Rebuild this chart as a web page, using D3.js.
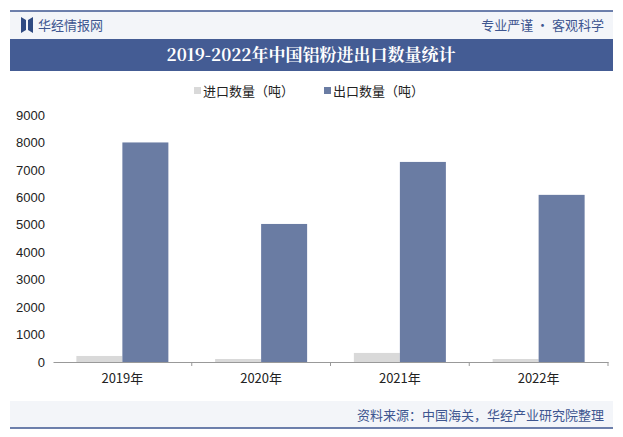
<!DOCTYPE html><html><head><meta charset="utf-8"><script src="https://cdn.jsdelivr.net/npm/d3@7"></script>
<style>body{margin:0;background:#fff}svg{font-family:"Liberation Sans",Arial,sans-serif}</style></head><body><svg id="c" width="623" height="437"></svg><script>
const categories=["2019年","2020年","2021年","2022年"];
const importVals=[220,110,330,110];
const exportVals=[8000,5030,7290,6090];
const yTicks=[0,1000,2000,3000,4000,5000,6000,7000,8000,9000];
const series=["进口数量（吨）","出口数量（吨）"];
const colors=["#d9d9d9","#6a7ca3"];
const svg=d3.select("#c");
const cjk='"Noto Sans CJK SC",sans-serif';
svg.append("rect").attr("x",10).attr("y",11).attr("width",603).attr("height",28).attr("fill","#f3f5f9");
svg.append("line").attr("x1",10).attr("x2",613).attr("y1",11).attr("y2",11).attr("stroke","#3e5690").attr("stroke-width",1.5);
svg.append("rect").attr("x",10).attr("y",39).attr("width",603).attr("height",32).attr("fill","#445c94");
svg.append("path").attr("d","M21,17 l5,3 v10 l-5,3z M28,20 l5,-3 v16 l-5,-3z").attr("fill","#2f4a82");
svg.append("text").attr("x",38).attr("y",30).attr("font-family",cjk).attr("font-size",13).attr("fill","#3e5690").text("华经情报网");
svg.append("text").attr("x",604).attr("y",30).attr("text-anchor","end").attr("font-family",cjk).attr("font-size",13).attr("fill","#3e5690").text("专业严谨 • 客观科学");
svg.append("text").attr("x",311).attr("y",61).attr("text-anchor","middle").attr("font-family",'"Noto Serif CJK SC","Noto Sans CJK SC",serif').attr("font-weight","bold").attr("font-size",17).attr("fill","#fff").text("2019-2022年中国铝粉进出口数量统计");
const lg=svg.append("g").attr("font-family",cjk).attr("font-size",13).attr("fill","#222");
[[194,0],[324,1]].forEach(([x,i])=>{lg.append("rect").attr("x",x).attr("y",87).attr("width",7).attr("height",7).attr("fill",colors[i]);lg.append("text").attr("x",x+9).attr("y",96).text(series[i]);});
const x=d3.scaleBand().domain(categories).range([53,608]);
const y=d3.scaleLinear().domain([0,9000]).range([362,115]);
const g=svg.append("g");
g.append("g").attr("transform","translate(0,362)").call(d3.axisBottom(x).tickSize(4).tickSizeOuter(0)).call(a=>{a.select(".domain").attr("stroke","#999");a.selectAll("line").attr("stroke","#999");a.selectAll(".tick line").attr("transform",`translate(${x.bandwidth()/2},0)`);a.selectAll("text").attr("font-size",13).attr("fill","#222").attr("font-family",cjk).attr("dy","1.1em");});
g.append("g").attr("transform","translate(53,0)").call(d3.axisLeft(y).tickValues(yTicks).tickFormat(d3.format("d")).tickSize(0).tickPadding(8)).call(a=>{a.select(".domain").remove();a.selectAll("text").attr("font-size",13).attr("fill","#222");});
const bw=46;
categories.forEach((c,i)=>{const cx=x(c)+x.bandwidth()/2;
g.append("rect").attr("x",cx-bw).attr("width",bw).attr("y",y(importVals[i])).attr("height",362-y(importVals[i])).attr("fill",colors[0]);
g.append("rect").attr("x",cx).attr("width",bw).attr("y",y(exportVals[i])).attr("height",362-y(exportVals[i])).attr("fill",colors[1]);});
svg.append("rect").attr("x",10).attr("y",401).attr("width",603).attr("height",27).attr("fill","#f3f5f9");
svg.append("line").attr("x1",10).attr("x2",613).attr("y1",428).attr("y2",428).attr("stroke","#3e5690").attr("stroke-width",1.5);
svg.append("text").attr("x",604).attr("y",420).attr("text-anchor","end").attr("font-family",cjk).attr("font-size",13).attr("fill","#3e5690").text("资料来源：中国海关，华经产业研究院整理");
</script></body></html>
